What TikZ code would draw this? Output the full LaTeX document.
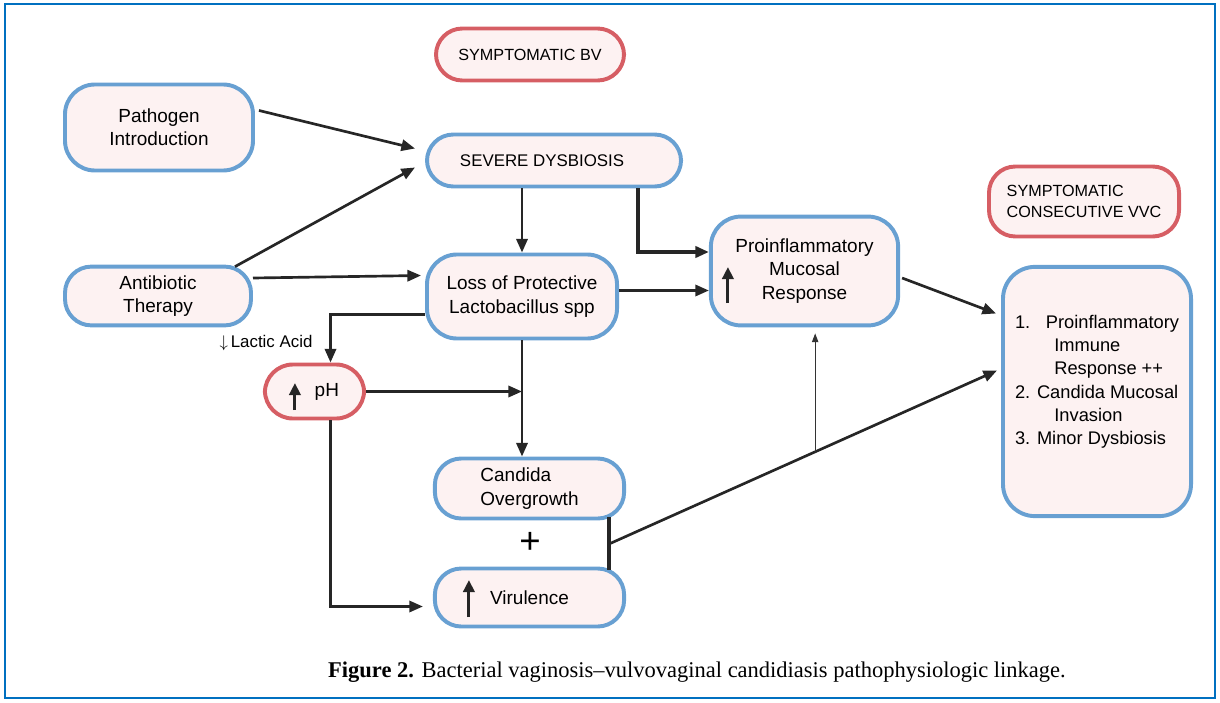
\documentclass[tikz,border=0pt]{standalone}
\usepackage{fontspec}
\setmainfont{Liberation Serif}
\newfontfamily\diagfont{Liberation Sans}
\usetikzlibrary{arrows.meta, calc, positioning}
\definecolor{cFrame}{RGB}{0,112,192}
\definecolor{cBlue}{RGB}{104,160,210}
\definecolor{cRed}{RGB}{214,94,100}
\definecolor{cFill}{RGB}{253,242,242}
\tikzset{
	% rounded label boxes
	pill/.style     ={rectangle, rounded corners=0.66cm, line width=2.8pt, fill=cFill, align=center, inner sep=2pt},
	bluepill/.style ={pill, draw=cBlue},
	redpill/.style  ={pill, draw=cRed},
	% connectors
	flowarrow/.style ={-{Triangle[length=3.4mm, width=2.8mm]}, line width=1.9pt, black!85},
	heavyarrow/.style={flowarrow, line width=2.7pt},
	thinarrow/.style ={-{Triangle[length=2.2mm, width=1.6mm]}, line width=0.7pt, black!80},
	uparrow/.style   ={-{Triangle[length=3mm, width=2.8mm]}, line width=2.2pt, black!85},
}

\begin{document}
\begin{tikzpicture}[x=0.025cm, y=-0.025cm, font=\diagfont\fontsize{13.5}{16.5}\selectfont]
	\useasboundingbox (0,0) rectangle (1220,702);
	\draw[cFrame, line width=1.4pt] (5,4) rectangle (1215,698);

	\node[redpill, minimum width=4.7cm, minimum height=1.3cm, font=\diagfont\fontsize{11.5}{14}\selectfont] (symbv) at (530,54.5) {SYMPTOMATIC BV};
	\node[bluepill, rounded corners=0.75cm, minimum width=4.7cm, minimum height=2.15cm] (pathogen) at (159,127.5) {Pathogen\\Introduction};
	\node[bluepill, minimum width=6.35cm, minimum height=1.3cm, font=\diagfont\fontsize{12}{14}\selectfont] (severe) at (554,160.5) {SEVERE DYSBIOSIS\hspace*{17pt}};
	\node[bluepill, minimum width=4.65cm, minimum height=1.47cm] (antib) at (158,296) {Antibiotic\\Therapy};
	\node[bluepill, rounded corners=0.75cm, minimum width=4.75cm, minimum height=2.1cm] (loss) at (522,296.5) {Loss of Protective\\Lactobacillus spp};
	\node[bluepill, rounded corners=0.75cm, minimum width=4.68cm, minimum height=2.72cm] (proinfl) at (804.5,271) {Proinflammatory\\Mucosal\\Response};
	\node[redpill, minimum width=4.75cm, minimum height=1.75cm, align=left, font=\diagfont\fontsize{11.5}{14.5}\selectfont] (symvvc) at (1084,201.5) {SYMPTOMATIC\\CONSECUTIVE VVC};
	\node[bluepill, rounded corners=0.8cm, minimum width=4.7cm, minimum height=6.23cm, align=left, font=\diagfont\fontsize{13}{16.5}\selectfont] (outcome) at (1097,391.5)
		{\makebox[22pt][l]{1.}Proinflammatory\\\hspace*{28pt}Immune\\\hspace*{28pt}Response ++\\2. Candida Mucosal\\\hspace*{28pt}Invasion\\3. Minor Dysbiosis\\\mbox{}};
	\node[redpill, rounded corners=0.7cm, minimum width=2.48cm, minimum height=1.35cm] (ph) at (314.5,391.5) {\hspace*{1.3em}pH};
	\node[bluepill, minimum width=4.73cm, minimum height=1.5cm, align=left] (candida) at (529.5,488.5) {Candida\\Overgrowth};
	\node[bluepill, minimum width=4.73cm, minimum height=1.45cm] (virul) at (529.5,597.5) {Virulence};
	\node[font=\diagfont\fontsize{12}{14}\selectfont] (lactic) at (266,343) {$\downarrow$\,Lactic Acid};
	\node[font=\diagfont\fontsize{26}{26}\selectfont] (plus) at (530,543) {+};

	% arrows inside the boxes
	\draw[uparrow] ($(proinfl.west)+(19,32)$) -- ($(proinfl.west)+(19,-4)$);
	\draw[uparrow] ($(ph.west)+(32,18.5)$) -- ($(ph.west)+(32,-8.5)$);
	\draw[uparrow] ($(virul.west)+(36,19.5)$) -- ($(virul.west)+(36,-17.5)$);

	\draw[flowarrow] ($(pathogen.east)+(4,-17)$) -- ($(severe.west)+(-10,-12)$);
	\draw[flowarrow] ($(antib.north east)+(-18,2)$) -- ($(severe.west)+(-10,7)$);
	\draw[flowarrow] ($(antib.east)+(0,-18)$) -- ($(loss.west)+(-4,-21)$);
	\draw[flowarrow] (loss.north |- severe.south) -- (loss.north);
	\draw[heavyarrow] ($(severe.south)+(84,0)$) |- ($(proinfl.west)+(0,-19)$);
	\draw[flowarrow] ($(loss.east)+(0,-6)$) coordinate (l1) -- (l1 -| proinfl.west);
	\draw[flowarrow] ($(loss.west)+(0,18)$) -| ($(ph.north)+(16,0)$);
	\draw[flowarrow] (ph.east) -- (loss.south |- ph.east);
	\draw[flowarrow] (loss.south) -- (loss.south |- candida.north);
	\draw[flowarrow] ($(ph.south)+(16,0)$) |- ($(virul.west)+(-10,9)$);
	\draw[flowarrow, -, line width=2.4pt] ($(candida.south east)+(-17,-3)$) -- ($(virul.north east)+(-17,3)$);
	\coordinate (j) at ($(candida.south east)!0.5!(virul.north east)+(-16,0)$);
	\coordinate (o1) at ($(outcome.west)+(-4,-21)$);
	\draw[flowarrow] (j) -- (o1);
	\coordinate (k) at ($(j)!0.53!(o1)$);
	\draw[thinarrow] (k) -- ($(k |- proinfl.south)+(0,6)$);
	\draw[flowarrow] ($(proinfl.east)+(2,7)$) -- ($(outcome.west)+(-5,-78)$);

	\node[font=\rmfamily\fontsize{16}{19}\selectfont] (caption) at (697,672) {\textbf{Figure 2.} Bacterial vaginosis–vulvovaginal candidiasis pathophysiologic linkage.};
\end{tikzpicture}
\end{document}
